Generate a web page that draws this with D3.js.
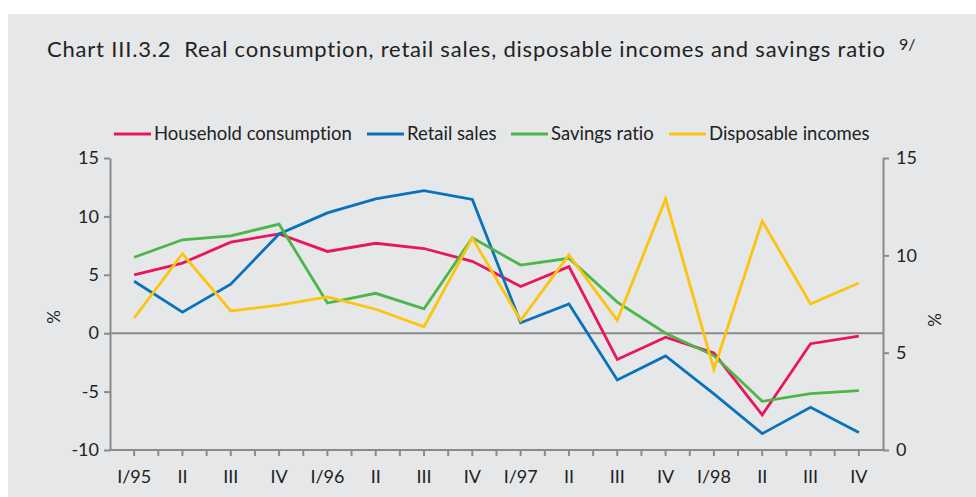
<!DOCTYPE html>
<html lang="en">
<head>
    <meta charset="UTF-8">
    <script src="https://d3js.org/d3.v7.min.js"></script>
    <style>
        body { margin: 0; background: white; }
        text { font-family: Lato, "Open Sans", sans-serif; fill: #222; font-variant-ligatures: none; }
    </style>
</head>
<body>
    <svg id="chart" width="976" height="497"></svg>
    <script>
        // quarters 1995-1998
        const quarters = ["I/95", "II", "III", "IV", "I/96", "II ", "III ", "IV ",
                          "I/97", "II  ", "III  ", "IV  ", "I/98", "II   ", "III   ", "IV   "];

        // left axis, %
        const household = [5.0, 6.0, 7.8, 8.5, 7.0, 7.7, 7.25, 6.15, 4.0, 5.7, -2.25, -0.35, -1.7, -7.0, -0.9, -0.25];
        const retail = [4.45, 1.8, 4.2, 8.5, 10.3, 11.5, 12.2, 11.45, 0.9, 2.5, -4.0, -1.95, -5.2, -8.6, -6.35, -8.5];
        const disposable = [1.3, 6.8, 1.9, 2.4, 3.1, 2.05, 0.55, 8.15, 1.1, 6.7, 1.1, 11.5, -3.1, 9.6, 2.5, 4.3];
        // right axis, %
        const savings = [9.9, 10.8, 11.0, 11.6, 7.55, 8.05, 7.25, 10.9, 9.5, 9.85, 7.6, 6.0, 4.85, 2.5, 2.9, 3.05];

        const leftTicks = [-10, -5, 0, 5, 10, 15];
        const rightTicks = [0, 5, 10, 15];

        const svg = d3.select("#chart");
        const axisColor = "#8a8a8a";

        svg.append("rect")
            .attr("x", 8).attr("y", 14)
            .attr("width", 968).attr("height", 483)
            .attr("fill", "#e6e7e9");

        const margin = { top: 158, right: 93, bottom: 47, left: 110 };
        const width = 976, height = 497;

        const x = d3.scaleBand()
            .domain(quarters)
            .range([margin.left, width - margin.right])
            .padding(0);

        const y = d3.scaleLinear()
            .domain([-10, 15])
            .range([height - margin.bottom, margin.top]);

        const y2 = d3.scaleLinear()
            .domain([0, 15])
            .range([height - margin.bottom, margin.top]);

        const cx = d => x(d) + x.bandwidth() / 2;

        // title
        svg.append("text")
            .attr("x", 47)
            .attr("y", 57)
            .attr("textLength", 838)
            .attr("lengthAdjust", "spacing")
            .style("font-size", "22px")
            .text("Chart III.3.2\u00a0\u00a0Real consumption, retail sales, disposable incomes and savings ratio");
        svg.append("text")
            .attr("x", 899)
            .attr("y", 50)
            .style("font-size", "16px")
            .text("9/");

        // legend
        const legend = [
            { name: "Household consumption", color: "#e8175d", x: 114 },
            { name: "Retail sales", color: "#0a72bb", x: 367 },
            { name: "Savings ratio", color: "#4bb748", x: 511 },
            { name: "Disposable incomes", color: "#fdc40f", x: 669 }
        ];
        const lg = svg.selectAll(".legend")
            .data(legend)
            .enter().append("g")
            .attr("class", "legend")
            .attr("transform", d => `translate(${d.x},134)`);
        lg.append("line")
            .attr("x1", 0).attr("x2", 37)
            .attr("stroke", d => d.color)
            .attr("stroke-width", 2.8);
        lg.append("text")
            .attr("x", 40)
            .attr("y", 6)
            .style("font-size", "18.5px")
            .text(d => d.name);

        // zero line
        svg.append("line")
            .attr("x1", margin.left).attr("x2", width - margin.right)
            .attr("y1", y(0)).attr("y2", y(0))
            .attr("stroke", axisColor).attr("stroke-width", 2);

        // left axis
        const gl = svg.append("g")
            .attr("transform", `translate(${margin.left},0)`)
            .call(d3.axisLeft(y).tickValues(leftTicks).tickFormat(d => String(d))
                .tickSize(6).tickPadding(5).tickSizeOuter(0));
        // right axis
        const gr = svg.append("g")
            .attr("transform", `translate(${width - margin.right},0)`)
            .call(d3.axisRight(y2).tickValues(rightTicks).tickFormat(d => String(d))
                .tickSize(6).tickPadding(7).tickSizeOuter(0));

        // bottom axis: ticks at centres and boundaries, labels at centres
        const gb = svg.append("g")
            .attr("transform", `translate(0,${height - margin.bottom})`);
        gb.append("line")
            .attr("x1", margin.left).attr("x2", width - margin.right)
            .attr("stroke", axisColor).attr("stroke-width", 2);
        const tickXs = [];
        quarters.forEach(q => { tickXs.push(x(q) + x.bandwidth() / 2); tickXs.push(x(q) + x.bandwidth()); });
        gb.selectAll(".xtick")
            .data(tickXs.slice(0, -1))
            .enter().append("line")
            .attr("x1", d => d).attr("x2", d => d)
            .attr("y1", 0).attr("y2", 6)
            .attr("stroke", axisColor).attr("stroke-width", 2);
        gb.selectAll(".xlab")
            .data(quarters)
            .enter().append("text")
            .attr("x", d => cx(d))
            .attr("y", 33)
            .attr("text-anchor", "middle")
            .style("font-size", "18px")
            .text(d => d.trim());

        [gl, gr].forEach(g => {
            g.select(".domain").attr("stroke", axisColor).attr("stroke-width", 2);
            g.selectAll(".tick line").attr("stroke", axisColor).attr("stroke-width", 2);
            g.selectAll(".tick text").style("font-size", "18px").style("font-family", "Lato, sans-serif").attr("fill", "#222");
        });

        // % labels
        svg.append("text")
            .attr("transform", "translate(60,317) rotate(-90)")
            .attr("text-anchor", "middle")
            .style("font-size", "17px")
            .text("%");
        svg.append("text")
            .attr("transform", "translate(941,320) rotate(-90)")
            .attr("text-anchor", "middle")
            .style("font-size", "17px")
            .text("%");

        // lines
        const lineL = d3.line().x((d, i) => cx(quarters[i])).y(d => y(d));
        const lineR = d3.line().x((d, i) => cx(quarters[i])).y(d => y2(d));

        const series = [
            { values: household, color: legend[0].color, line: lineL },
            { values: retail, color: legend[1].color, line: lineL },
            { values: savings, color: legend[2].color, line: lineR },
            { values: disposable, color: legend[3].color, line: lineL }
        ];
        svg.selectAll(".series")
            .data(series)
            .enter().append("path")
            .attr("class", "series")
            .attr("d", d => d.line(d.values))
            .attr("fill", "none")
            .attr("stroke", d => d.color)
            .attr("stroke-width", 2.8);
    </script>
</body>
</html>
